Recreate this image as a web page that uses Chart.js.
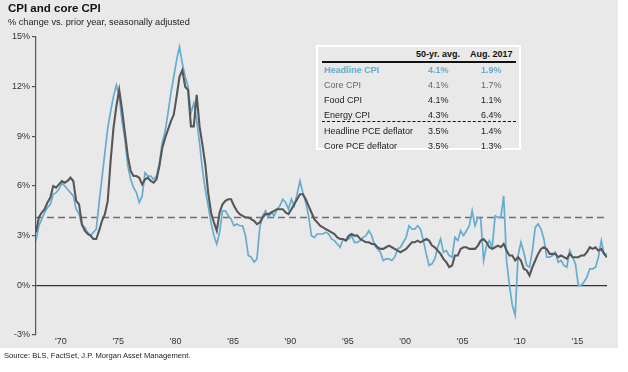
<!DOCTYPE html>
<html>
<head>
<meta charset="utf-8">
<script src="https://cdn.jsdelivr.net/npm/chart.js@4.4.1/dist/chart.umd.min.js"></script>
<style>
  body { margin: 0; background: #fff; font-family: "Liberation Sans", Arial, sans-serif; }
  #panel { position: absolute; left: 0; top: 0; width: 618px; height: 348px; background: #e9e9e9; }
  #wrap { position: absolute; left: 0; top: 0; width: 628px; height: 372px; }
  .title { position: absolute; left: 8px; top: 2px; font-size: 11.5px; font-weight: bold; color: #111; }
  .sub { position: absolute; left: 8px; top: 17px; font-size: 9.2px; color: #222; }
  .source { position: absolute; left: 4px; top: 351px; font-size: 7.6px; color: #222; }
  #stats { position: absolute; left: 316px; top: 45px; width: 201px; height: 101px;
           border: 2px solid #fff; background: #e9e9e9; font-size: 9px; color: #222; }
  #stats div { position: absolute; white-space: nowrap; }
  .hd { font-weight: bold; color: #111; }
  .rule { position: absolute; left: 4px; width: 194px; }
</style>
</head>
<body>
<div id="panel"></div>
<div id="wrap"><canvas id="cpiChart" width="628" height="372"></canvas></div>
<div class="title">CPI and core CPI</div>
<div class="sub">% change vs. prior year, seasonally adjusted</div>
<div id="stats"></div>
<div class="source">Source: BLS, FactSet, J.P. Morgan Asset Management.</div>
<script>
// DATA - quarterly readings, Nov 1967 .. Aug 2017
const startYear = 1967 + 10 / 12;
const endYear = 2017 + 7 / 12;
const yearTicks = [1970, 1975, 1980, 1985, 1990, 1995, 2000, 2005, 2010, 2015];
const yTicks = [-3, 0, 3, 6, 9, 12, 15];
const headlineAvg = 4.1;

const headlineCPI = [
  2.7,
  3.6, 4.0, 4.4, 4.7,   4.9, 5.5, 5.6, 5.8,   6.2, 6.0, 5.8, 5.6,   5.4, 4.6, 4.3, 3.6,
  3.5, 3.2, 3.0, 3.2,   3.4, 5.0, 6.5, 8.0,   9.5, 10.5, 11.4, 12.1, 11.4, 9.9, 8.8, 7.2,
  6.4, 5.9, 5.6, 5.0,   5.4, 6.8, 6.6, 6.6,   6.4, 6.6, 7.4, 8.6,   9.3, 10.4, 11.6, 12.6,
  13.6, 14.4, 13.4, 12.6, 12.0, 10.4, 11.0, 10.0, 8.6, 7.0, 5.8, 4.8, 3.8, 3.0, 2.5, 3.2,
  4.5, 4.5, 4.2, 4.0,   3.6, 3.7, 3.6, 3.6,   3.0, 1.8, 1.7, 1.4,   1.6, 3.5, 4.2, 4.5,
  4.1, 4.4, 4.2, 4.6,   4.8, 5.2, 5.0, 4.6,   5.2, 4.8, 5.5, 6.3,   5.6, 5.0, 4.2, 3.0,
  2.9, 3.1, 3.1, 3.1,   3.2, 3.1, 2.8, 2.7,   2.5, 2.3, 2.8, 2.7,   2.8, 3.0, 2.6, 2.6,
  2.7, 2.9, 3.0, 3.3,   3.0, 2.4, 2.2, 2.0,   1.5, 1.6, 1.6, 1.5,   1.7, 2.2, 2.3, 2.6,
  2.9, 3.6, 3.4, 3.4,   3.6, 3.4, 2.7, 1.9,   1.2, 1.3, 1.6, 2.3,   2.8, 2.0, 2.1, 1.8,
  1.7, 2.9, 2.7, 3.3,   3.0, 3.3, 3.6, 4.5,   3.6, 4.1, 4.0, 1.5,   2.4, 2.7, 2.3, 4.2,
  4.1, 4.1, 5.4, 1.5,   0.0, -1.2, -1.8, 1.8, 2.6, 2.0, 1.2, 1.1,   2.1, 3.5, 3.7, 3.4,
  2.8, 1.7, 1.7, 1.8,   2.0, 1.4, 1.5, 1.2,   1.1, 2.1, 1.7, 1.3,   0.0, 0.0, 0.2, 0.5,
  1.0, 1.0, 1.1, 1.7,   2.7, 1.9, 1.9
];

const coreCPI = [
  3.2,
  4.1, 4.4, 4.6, 5.0,   5.3, 6.0, 5.9, 6.1,   6.3, 6.2, 6.3, 6.5,   6.3, 5.1, 4.9, 3.7,
  3.3, 3.1, 3.0, 2.8,   2.8, 3.3, 3.9, 4.3,   5.1, 7.5, 9.5, 10.8,  11.8, 10.6, 9.2, 7.8,
  6.9, 6.6, 6.6, 6.5,   6.1, 6.4, 6.5, 6.3,   6.2, 6.4, 7.2, 8.3,   8.9, 9.4, 9.9, 10.3,
  11.4, 12.6, 13.0, 12.0, 11.8, 9.6, 9.6, 11.5, 9.6, 8.5, 7.3, 5.6,  4.4, 3.8, 3.3, 4.4,
  4.9, 5.1, 5.2, 5.2,   4.8, 4.5, 4.3, 4.2,   4.1, 4.1, 4.0, 3.9,   3.7, 3.8, 4.1, 4.3,
  4.3, 4.4, 4.5, 4.6,   4.6, 4.6, 4.4, 4.3,   4.6, 4.9, 5.2, 5.5,   5.5, 5.2, 4.8, 4.4,
  4.0, 3.8, 3.6, 3.5,   3.4, 3.3, 3.2, 3.1,   2.9, 2.8, 2.8, 2.7,   3.0, 3.1, 3.0, 3.0,
  2.8, 2.7, 2.6, 2.6,   2.5, 2.5, 2.3, 2.2,   2.2, 2.3, 2.4, 2.3,   2.2, 2.1, 2.0, 2.1,
  2.2, 2.4, 2.6, 2.6,   2.7, 2.6, 2.7, 2.8,   2.7, 2.4, 2.3, 2.1,   1.9, 1.6, 1.4, 1.1,
  1.2, 1.8, 1.8, 2.2,   2.3, 2.3, 2.2, 2.2,   2.2, 2.4, 2.7, 2.8,   2.6, 2.3, 2.2, 2.3,
  2.4, 2.3, 2.5, 2.1,   1.8, 1.8, 1.5, 1.7,   1.5, 1.0, 0.9, 0.6,   1.1, 1.5, 1.9, 2.2,
  2.3, 2.2, 1.9, 1.9,   1.9, 1.7, 1.8, 1.7,   1.6, 1.9, 1.7, 1.7,   1.7, 1.8, 1.8, 2.0,
  2.3, 2.2, 2.3, 2.1,   2.2, 1.9, 1.7
];

// table values
const tableRows = ["Headline CPI", "Core CPI", "Food CPI", "Energy CPI", "Headline PCE deflator", "Core PCE deflator"];
const tableAvg = ["4.1%", "4.1%", "4.1%", "4.3%", "3.5%", "3.5%"];
const tableLatest = ["1.9%", "1.7%", "1.1%", "6.4%", "1.4%", "1.3%"];

const BLUE = "#65adcf";
const DARK = "#575757";

function toPoints(vals) {
  return vals.map((v, i) => ({ x: startYear + i * 0.25, y: v }));
}

// STATS TABLE
const stats = document.getElementById("stats");
let html = '<div class="hd" style="left:98px;top:2px">50-yr. avg.</div>' +
           '<div class="hd" style="left:152px;top:2px">Aug. 2017</div>' +
           '<div class="rule" style="top:14px;border-top:2px solid #111"></div>' +
           '<div class="rule" style="top:74px;border-top:1px dashed #111"></div>';
tableRows.forEach((name, i) => {
  const top = 18 + i * 15 + (i > 3 ? 1 : 0);
  let style = "";
  if (i === 0) style = "color:" + BLUE + ";font-weight:bold;";
  if (i === 1) style = "color:#666;";
  html += '<div style="left:6px;top:' + top + 'px;' + style + '">' + name + '</div>';
  html += '<div style="left:110px;top:' + top + 'px;' + style + '">' + tableAvg[i] + '</div>';
  html += '<div style="left:163px;top:' + top + 'px;' + style + '">' + tableLatest[i] + '</div>';
});
stats.innerHTML = html;

// CHART
new Chart(document.getElementById("cpiChart"), {
  type: "line",
  data: {
    datasets: [
      { label: "Core CPI", data: toPoints(coreCPI), borderColor: DARK, borderWidth: 2.1, pointRadius: 0, tension: 0 },
      { label: "Headline CPI", data: toPoints(headlineCPI), borderColor: BLUE, borderWidth: 1.7, pointRadius: 0, tension: 0 },
      { label: "50-yr avg", data: [{ x: startYear, y: headlineAvg }, { x: endYear, y: headlineAvg }],
        borderColor: "#6f6f6f", borderWidth: 1.6, borderDash: [7, 4], pointRadius: 0 }
    ]
  },
  options: {
    responsive: false,
    animation: false,
    layout: { padding: { left: 0, top: 37, right: 21, bottom: 25 } },
    plugins: { legend: { display: false }, tooltip: { enabled: false } },
    scales: {
      x: {
        type: "linear",
        min: startYear,
        max: endYear,
        afterBuildTicks: (axis) => { axis.ticks = yearTicks.map(v => ({ value: v })); },
        afterFit: (axis) => { axis.height = 12; },
        grid: { display: false, drawTicks: false },
        border: { display: false },
        ticks: {
          padding: 1,
          maxRotation: 0,
          color: "#333",
          font: { family: "Liberation Sans", size: 9 },
          callback: (v) => "'" + String(v).slice(2)
        }
      },
      y: {
        min: -3,
        max: 15,
        afterBuildTicks: (axis) => { axis.ticks = yTicks.map(v => ({ value: v })); },
        afterFit: (axis) => { axis.width = 36; },
        border: { display: true, color: "#555", width: 1.2 },
        grid: {
          drawOnChartArea: true,
          color: (ctx) => ctx.tick && ctx.tick.value === 0 ? "#333" : "rgba(0,0,0,0)",
          lineWidth: 1.2,
          tickColor: "#555",
          tickLength: 4
        },
        ticks: {
          padding: 2,
          color: "#333",
          font: { family: "Liberation Sans", size: 9 },
          callback: (v) => v + "%"
        }
      }
    }
  }
});
</script>
</body>
</html>
